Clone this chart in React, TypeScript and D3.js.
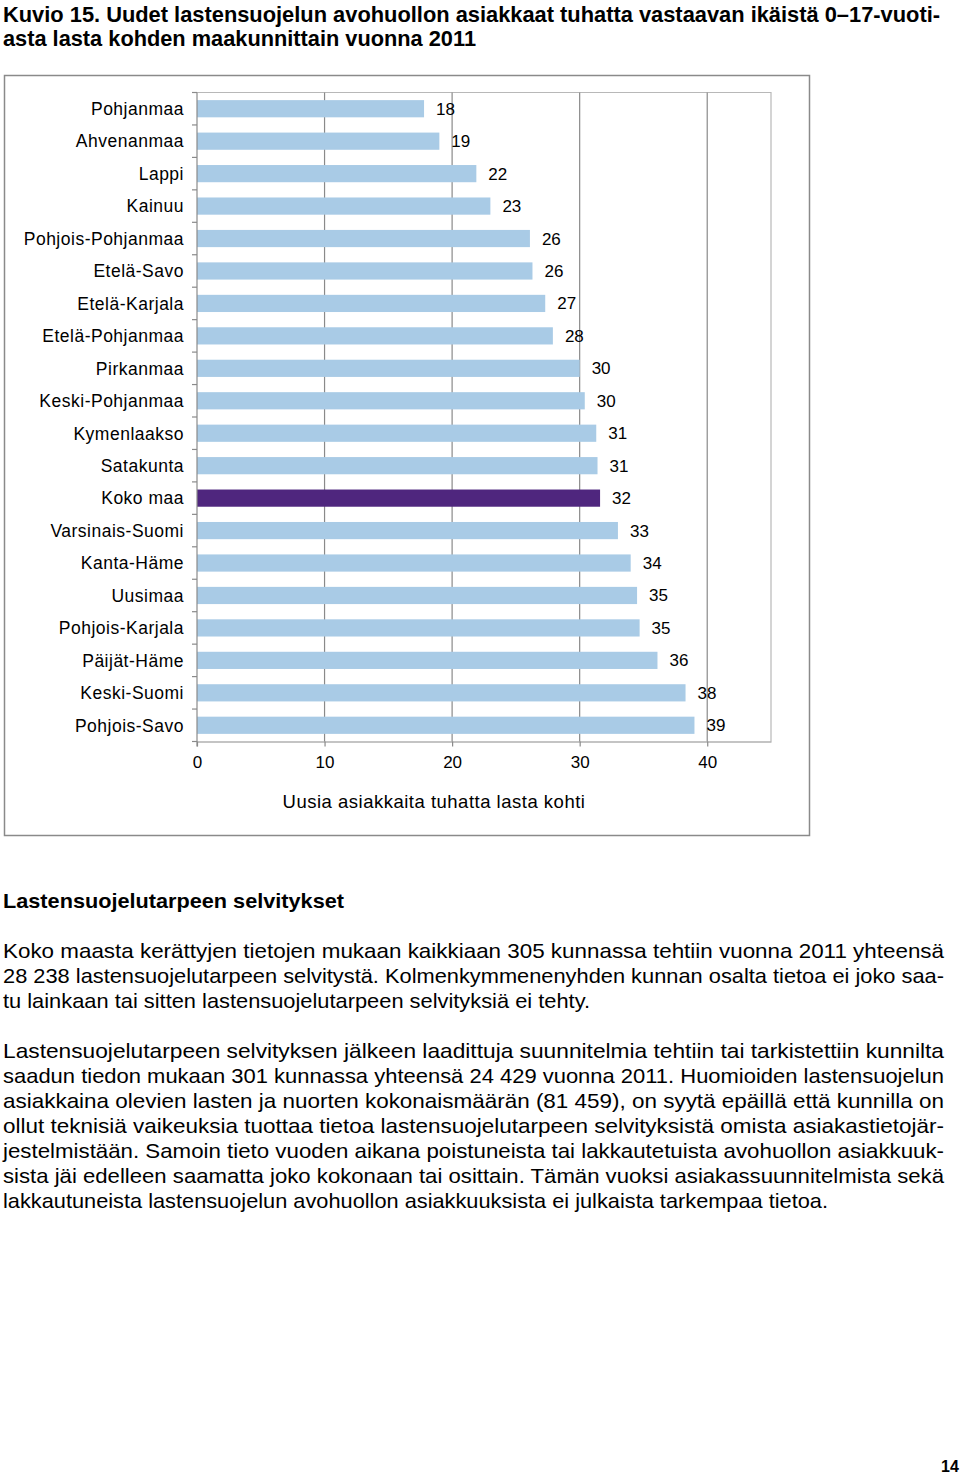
import { useEffect, useRef } from 'react'
import * as d3 from 'd3'

const REGIONS = [
  'Pohjanmaa', 'Ahvenanmaa', 'Lappi', 'Kainuu', 'Pohjois-Pohjanmaa', 'Etelä-Savo',
  'Etelä-Karjala', 'Etelä-Pohjanmaa', 'Pirkanmaa', 'Keski-Pohjanmaa', 'Kymenlaakso',
  'Satakunta', 'Koko maa', 'Varsinais-Suomi', 'Kanta-Häme', 'Uusimaa', 'Pohjois-Karjala',
  'Päijät-Häme', 'Keski-Suomi', 'Pohjois-Savo',
]
const VALUES = [
  17.8, 19.0, 21.9, 23.0, 26.1, 26.3, 27.3, 27.9, 30.0, 30.4,
  31.3, 31.4, 31.6, 33.0, 34.0, 34.5, 34.7, 36.1, 38.3, 39.0,
]
const HIGHLIGHT = 'Koko maa'
const X_TICKS = [0, 10, 20, 30, 40]
const X_MAX = 45
const X_LABEL = 'Uusia asiakkaita tuhatta lasta kohti'

const TITLE_LINES = [
  'Kuvio 15. Uudet lastensuojelun avohuollon asiakkaat tuhatta vastaavan ikäistä 0–17-vuoti-',
  'asta lasta kohden maakunnittain vuonna 2011',
]
const HEADING = 'Lastensuojelutarpeen selvitykset'
const PARAGRAPH_1 = [
  'Koko maasta kerättyjen tietojen mukaan kaikkiaan 305 kunnassa tehtiin vuonna 2011 yhteensä',
  '28 238 lastensuojelutarpeen selvitystä. Kolmenkymmenenyhden kunnan osalta tietoa ei joko saa-',
  'tu lainkaan tai sitten lastensuojelutarpeen selvityksiä ei tehty.',
]
const PARAGRAPH_2 = [
  'Lastensuojelutarpeen selvityksen jälkeen laadittuja suunnitelmia tehtiin tai tarkistettiin kunnilta',
  'saadun tiedon mukaan 301 kunnassa yhteensä 24 429 vuonna 2011. Huomioiden lastensuojelun',
  'asiakkaina olevien lasten ja nuorten kokonaismäärän (81 459), on syytä epäillä että kunnilla on',
  'ollut teknisiä vaikeuksia tuottaa tietoa lastensuojelutarpeen selvityksistä omista asiakastietojär-',
  'jestelmistään. Samoin tieto vuoden aikana poistuneista tai lakkautetuista avohuollon asiakkuuk-',
  'sista jäi edelleen saamatta joko kokonaan tai osittain.  Tämän vuoksi asiakassuunnitelmista sekä',
  'lakkautuneista lastensuojelun avohuollon asiakkuuksista ei julkaista tarkempaa tietoa.',
]
const PAGE_NUMBER = '14'

const NARROW = "'Liberation Sans Narrow', 'Arial Narrow', 'Liberation Sans', Arial, sans-serif"
const SANS = "'Liberation Sans', Arial, sans-serif"
const BAR = '#a9cbe6'
const BAR_HI = '#4f267e'
const GRID = '#8a8a8a'
const FRAME = '#b8b8b8'

export default function App() {
  const ref = useRef<SVGSVGElement>(null)

  useEffect(() => {
    if (!ref.current) return
    d3.select(ref.current).selectAll('*').remove()
    render(ref.current)
  }, [])

  return (
    <svg
      ref={ref}
      width={960}
      height={1474}
      style={{ position: 'absolute', left: 0, top: 0, display: 'block', background: '#fff' }}
    />
  )
}

function render(el: SVGSVGElement) {
  const svg = d3.select(el)

  // Page texts, lines stretched to the printed widths
  const textLine = (
    txt: string, x: number, y: number, size: number, weight: string, width?: number, family = NARROW,
  ) => {
    const t = svg.append('text')
      .attr('x', x)
      .attr('y', y)
      .attr('font-family', family)
      .attr('font-size', size)
      .attr('font-weight', weight)
      .attr('fill', '#000')
      .text(txt)
    if (width) t.attr('textLength', width).attr('lengthAdjust', 'spacingAndGlyphs')
    return t
  }

  textLine(TITLE_LINES[0], 3, 22, 22, 'bold', 937)
  textLine(TITLE_LINES[1], 3, 46, 22, 'bold', 473)

  // Chart frame
  svg.append('rect')
    .attr('x', 4.5).attr('y', 75.5)
    .attr('width', 805).attr('height', 760)
    .attr('fill', 'none')
    .attr('stroke', GRID)
    .attr('stroke-width', 1.5)

  const plot = { left: 197, right: 771, top: 92.5, bottom: 741.5 }

  const x = d3.scaleLinear().domain([0, X_MAX]).range([plot.left, plot.right])
  const y = d3.scaleBand().domain(REGIONS).range([plot.top, plot.bottom]).paddingInner(0.47).paddingOuter(0.235)
  const band = d3.scaleBand().domain(REGIONS).range([plot.top, plot.bottom])

  // Plot area border (top/right)
  svg.append('path')
    .attr('d', `M${plot.left},${plot.top}H${plot.right}V${plot.bottom}`)
    .attr('fill', 'none')
    .attr('stroke', FRAME)
    .attr('stroke-width', 1.2)

  // Grid
  svg.append('g')
    .selectAll('line')
    .data(X_TICKS.slice(1))
    .join('line')
    .attr('x1', (d) => x(d)).attr('x2', (d) => x(d))
    .attr('y1', plot.top).attr('y2', plot.bottom)
    .attr('stroke', GRID)
    .attr('stroke-width', 1.2)

  // Bars
  svg.append('g')
    .selectAll('rect')
    .data(REGIONS)
    .join('rect')
    .attr('x', x(0))
    .attr('y', (d) => y(d)!)
    .attr('width', (_, i) => x(VALUES[i]) - x(0))
    .attr('height', y.bandwidth())
    .attr('fill', (d) => (d === HIGHLIGHT ? BAR_HI : BAR))

  // Value labels
  svg.append('g')
    .selectAll('text')
    .data(REGIONS)
    .join('text')
    .attr('x', (_, i) => x(VALUES[i]) + 12)
    .attr('y', (d) => band(d)! + band.bandwidth() / 2 + 6)
    .attr('font-family', SANS)
    .attr('font-size', 17)
    .attr('fill', '#000')
    .text((_, i) => Math.round(VALUES[i]).toString())

  // Y axis
  svg.append('g')
    .attr('transform', `translate(${plot.left},0)`)
    .call(d3.axisLeft(band).tickSize(0).tickPadding(13))
    .call((sel) => sel.select('.domain').remove())
    .call((sel) =>
      sel.selectAll('text')
        .attr('font-family', SANS)
        .attr('font-size', 17.5)
        .attr('letter-spacing', 0.5)
        .attr('fill', '#000')
        .attr('dy', '0.36em'),
    )

  const yAxis = svg.append('g').attr('stroke', GRID).attr('stroke-width', 1.2)
  yAxis.append('line')
    .attr('x1', plot.left).attr('x2', plot.left)
    .attr('y1', plot.top).attr('y2', plot.bottom + 5)
  yAxis.selectAll('line.tick')
    .data([...REGIONS.map((d) => band(d)!), plot.bottom])
    .join('line')
    .attr('class', 'tick')
    .attr('x1', plot.left - 5).attr('x2', plot.left)
    .attr('y1', (d) => d).attr('y2', (d) => d)

  // X axis
  svg.append('g')
    .attr('transform', `translate(0,${plot.bottom})`)
    .call(d3.axisBottom(x).tickValues(X_TICKS).tickSize(5).tickPadding(9).tickSizeOuter(0))
    .call((sel) => sel.select('.domain').attr('stroke', GRID).attr('stroke-width', 1.2))
    .call((sel) => sel.selectAll('line').attr('stroke', GRID).attr('stroke-width', 1.2))
    .call((sel) =>
      sel.selectAll('text')
        .attr('font-family', SANS)
        .attr('font-size', 17)
        .attr('fill', '#000'),
    )

  svg.append('text')
    .attr('x', 434)
    .attr('y', 808)
    .attr('text-anchor', 'middle')
    .attr('font-family', SANS)
    .attr('font-size', 18.5)
    .attr('letter-spacing', 0.5)
    .attr('fill', '#000')
    .text(X_LABEL)

  // Body text
  textLine(HEADING, 3, 908, 21, 'bold', 341)

  const FULL = 941
  const paragraph = (lines: string[], y0: number, lastWidth: number) => {
    lines.forEach((line, i) => {
      textLine(line, 3, y0 + i * 25, 21, 'normal', i === lines.length - 1 ? lastWidth : FULL)
    })
  }
  paragraph(PARAGRAPH_1, 958, 587)
  paragraph(PARAGRAPH_2, 1058, 825)

  textLine(PAGE_NUMBER, 941, 1472, 16, 'bold', undefined, SANS)
}
